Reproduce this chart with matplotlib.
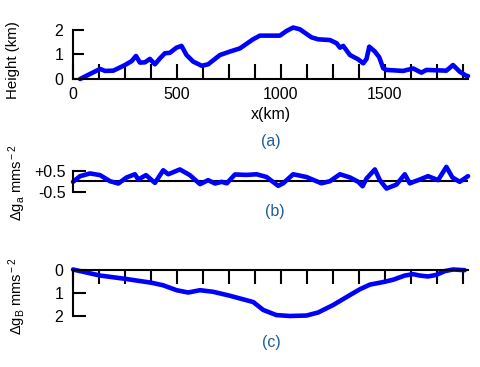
import matplotlib
matplotlib.use("Agg")
import matplotlib.pyplot as plt

plt.rcParams['font.family'] = ['Liberation Sans', 'DejaVu Sans']
plt.rcParams['mathtext.fontset'] = 'custom'
plt.rcParams['mathtext.rm'] = 'Liberation Sans'
plt.rcParams['mathtext.it'] = 'Liberation Sans'

# ---- data ----
height_x = [34, 130, 154, 194, 250, 282, 303, 322, 346, 370, 394, 418, 442, 466, 498, 522,
            546, 578, 619, 650, 707, 755, 803, 866, 899, 995, 1027, 1059, 1091, 1147, 1179,
            1236, 1268, 1284, 1300, 1332, 1372, 1396, 1412, 1425, 1452, 1473, 1492, 1508,
            1588, 1636, 1676, 1700, 1796, 1828, 1860, 1892, 1900]
height_km = [0.0, 0.41, 0.33, 0.34, 0.57, 0.73, 0.94, 0.67, 0.68, 0.82, 0.6, 0.84, 1.05, 1.07,
             1.28, 1.35, 0.98, 0.71, 0.54, 0.6, 0.98, 1.12, 1.25, 1.62, 1.77, 1.77, 1.96, 2.1,
             2.03, 1.7, 1.62, 1.59, 1.46, 1.28, 1.35, 0.98, 0.8, 0.64, 0.82, 1.32, 1.12, 0.89,
             0.44, 0.37, 0.33, 0.43, 0.26, 0.37, 0.34, 0.57, 0.3, 0.13, 0.12]

ga_x = [0, 34, 82, 130, 178, 218, 258, 298, 314, 351, 394, 434, 458, 514, 562, 611, 650,
        683, 715, 740, 779, 835, 883, 931, 987, 1011, 1059, 1123, 1195, 1236, 1284, 1332,
        1372, 1393, 1412, 1452, 1476, 1508, 1556, 1596, 1620, 1668, 1708, 1756, 1796, 1825,
        1860, 1900]
ga_val = [-0.03, 0.24, 0.37, 0.29, 0.0, -0.11, 0.18, 0.33, 0.08, 0.29, -0.08, 0.52, 0.33,
          0.56, 0.29, -0.14, 0.05, -0.11, -0.03, -0.1, 0.32, 0.3, 0.33, 0.2, -0.22, -0.1,
          0.33, 0.2, -0.1, 0.0, 0.33, 0.18, -0.03, -0.24, 0.13, 0.56, 0.05, -0.35, -0.16,
          0.33, -0.1, 0.08, 0.24, 0.05, 0.68, 0.18, -0.03, 0.24]

gb_x = [0, 130, 250, 378, 434, 498, 554, 611, 675, 755, 867, 915, 978, 1043, 1123, 1179,
        1251, 1332, 1380, 1428, 1492, 1540, 1596, 1636, 1668, 1708, 1748, 1788, 1828, 1884]
gb_val = [0.0, 0.26, 0.4, 0.57, 0.68, 0.89, 0.99, 0.89, 0.96, 1.13, 1.4, 1.74, 1.96, 2.0,
          1.98, 1.85, 1.53, 1.1, 0.85, 0.65, 0.54, 0.44, 0.26, 0.2, 0.26, 0.3, 0.23, 0.07,
          0.0, 0.03]

x_ticks = list(range(0, 1876, 125))
x_labels = ['0', '500', '1000', '1500']
a_yticks = [0, 1, 2]
b_yticks = [-0.5, 0.5]
b_ylabels = ['-0.5', '+0.5']
c_yticks = [0, 1, 2]

# ---- layout ----
W, H = 481, 367
fig = plt.figure(figsize=(W / 100, H / 100), dpi=100)

def rect(x0, x1, ytop, ybot):
    return [x0 / W, 1 - ybot / H, (x1 - x0) / W, (ybot - ytop) / H]

BLUE = '#0000ff'
LAB = '#1f5c99'
FS = 11.5
LW = 1.5
CLW = 3.3
line_kw = dict(color=BLUE, lw=CLW, clip_on=False, solid_capstyle='round',
               solid_joinstyle='round')

# panel (a)
axa = fig.add_axes(rect(73, 468, 79 - 2.2 * 24.5, 79))
axa.plot(height_x, height_km, **line_kw)
axa.set_xlim(0, 1900)
axa.set_ylim(0, 2.2)
for s in ['top', 'right']:
    axa.spines[s].set_visible(False)
axa.spines['left'].set_bounds(0, 2)
for s in ['left', 'bottom']:
    axa.spines[s].set_linewidth(LW)
axa.set_xticks(x_ticks)
axa.set_xticklabels([str(t) if str(t) in x_labels else '' for t in x_ticks])
axa.set_yticks(a_yticks)
axa.tick_params(axis='x', direction='in', length=11, width=LW, pad=6, labelsize=FS)
axa.tick_params(axis='y', direction='in', length=8, width=LW, pad=7, labelsize=FS)
axa.set_xlabel('x(km)', fontsize=FS, labelpad=3)
fig.text(13.5 / W, 1 - 60 / H, 'Height (km)', rotation=90, ha='center', va='center', fontsize=10.8)
fig.text(271 / W, 1 - 142 / H, '(a)', color=LAB, ha='center', va='center', fontsize=FS)

# panel (b)
axb = fig.add_axes(rect(73, 468, 181.2 - 0.8 * 21, 181.2 + 0.7 * 21))
axb.axhline(0, color='black', lw=LW, zorder=1)
axb.plot(ga_x, ga_val, zorder=2, **line_kw)
axb.set_xlim(0, 1900)
axb.set_ylim(-0.7, 0.8)
for s in ['top', 'right', 'bottom']:
    axb.spines[s].set_visible(False)
axb.spines['left'].set_bounds(-0.5, 0.5)
axb.spines['left'].set_linewidth(LW)
axb.set_xticks([])
axb.set_yticks(b_yticks)
axb.set_yticklabels(b_ylabels)
axb.tick_params(axis='y', direction='in', length=9, width=LW, pad=5, labelsize=FS)
fig.text(17 / W, 1 - 183 / H, r'$\Delta$g$_{\rm a}$ mms$^{\rm -2}$', rotation=90,
         ha='center', va='center', fontsize=10.5)
fig.text(275 / W, 1 - 211 / H, '(b)', color=LAB, ha='center', va='center', fontsize=FS)

# panel (c)
axc = fig.add_axes(rect(73, 468, 269.5 - 0.2 * 23.25, 269.5 + 2.2 * 23.25))
axc.plot(gb_x, gb_val, **line_kw)
axc.set_xlim(0, 1900)
axc.set_ylim(2.2, -0.2)
for s in ['bottom', 'right']:
    axc.spines[s].set_visible(False)
axc.spines['top'].set_position(('data', 0))
axc.spines['left'].set_bounds(0, 2)
for s in ['left', 'top']:
    axc.spines[s].set_linewidth(LW)
axc.xaxis.set_ticks_position('top')
axc.set_xticks(x_ticks)
axc.set_xticklabels([])
axc.set_yticks(c_yticks)
axc.tick_params(axis='x', direction='in', length=10, width=LW)
axc.tick_params(axis='y', direction='in', length=9, width=LW, pad=7, labelsize=FS)
fig.text(17 / W, 1 - 296 / H, r'$\Delta$g$_{\rm B}$ mms$^{\rm -2}$', rotation=90,
         ha='center', va='center', fontsize=10.5)
fig.text(271 / W, 1 - 342 / H, '(c)', color=LAB, ha='center', va='center', fontsize=FS)

fig.savefig('out.png', dpi=100)
